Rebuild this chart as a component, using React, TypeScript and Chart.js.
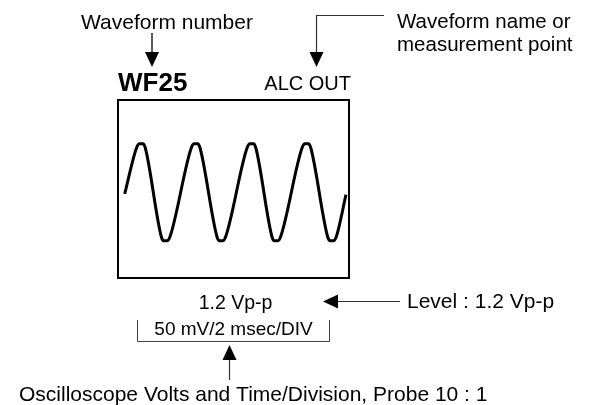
import React, { useEffect, useRef } from "react";
import { Chart, registerables } from "chart.js";

Chart.register(...registerables);

// Waveform trace (time in ms, 2 ms/div; level in V)
const waveTimeMs = [
  0.58,
  1.61, 1.86, 2.16, 2.36,
  3.75, 3.95, 4.25, 4.5,
  6.35, 6.6, 6.9, 7.1,
  8.57, 8.77, 9.07, 9.32,
  11.18, 11.43, 11.73, 11.93,
  13.33, 13.53, 13.83, 14.08,
  15.94, 16.19, 16.49, 16.69,
  18.15, 18.35, 18.65, 18.9,
  19.74,
];
const waveVolts = [
  -0.02,
  0.55, 0.6, 0.6, 0.55,
  -0.55, -0.6, -0.6, -0.55,
  0.55, 0.6, 0.6, 0.55,
  -0.55, -0.6, -0.6, -0.55,
  0.55, 0.6, 0.6, 0.55,
  -0.55, -0.6, -0.6, -0.55,
  0.55, 0.6, 0.6, 0.55,
  -0.55, -0.6, -0.6, -0.55,
  -0.03,
];

// Screen range (10 div x 2 ms; vertical window in V)
const timeRange = [0, 20];
const voltRange = [-1.06, 1.14];

// Labels
const waveformNumber = "WF25";
const waveformName = "ALC OUT";
const levelText = "1.2 Vp-p";
const scaleText = "50 mV/2 msec/DIV";
const calloutNumber = "Waveform number";
const calloutName = ["Waveform name or", "measurement point"];
const calloutLevel = "Level : 1.2 Vp-p";
const calloutScale = "Oscilloscope Volts and Time/Division, Probe 10 : 1";

const FONT = '"Liberation Sans", Arial, Helvetica, sans-serif';

function arrowHead(ctx: CanvasRenderingContext2D, x: number, y: number, dir: "down" | "up" | "left") {
  const len = 15;
  const half = 7;
  ctx.beginPath();
  if (dir === "down") {
    ctx.moveTo(x, y);
    ctx.lineTo(x - half, y - len);
    ctx.lineTo(x + half, y - len);
  } else if (dir === "up") {
    ctx.moveTo(x, y);
    ctx.lineTo(x - half, y + len);
    ctx.lineTo(x + half, y + len);
  } else {
    ctx.moveTo(x, y);
    ctx.lineTo(x + len, y - half);
    ctx.lineTo(x + len, y + half);
  }
  ctx.closePath();
  ctx.fill();
}

const annotations = {
  id: "annotations",
  afterDraw(chart: any) {
    const ctx: CanvasRenderingContext2D = chart.ctx;
    const { left, top, right, bottom } = chart.chartArea;
    ctx.save();

    // scope screen frame
    ctx.strokeStyle = "#000";
    ctx.lineWidth = 2;
    ctx.strokeRect(left, top, right - left, bottom - top);

    ctx.fillStyle = "#000";
    ctx.textBaseline = "alphabetic";

    // Waveform number label + arrow
    ctx.font = `21px ${FONT}`;
    ctx.textAlign = "center";
    ctx.fillText(calloutNumber, 167, 29);
    ctx.strokeStyle = "#222";
    ctx.lineWidth = 1.5;
    ctx.beginPath();
    ctx.moveTo(152, 33);
    ctx.lineTo(152, 54);
    ctx.stroke();
    arrowHead(ctx, 152, 67, "down");

    // WF number and name
    ctx.textAlign = "left";
    ctx.font = `bold 26px ${FONT}`;
    ctx.fillText(waveformNumber, left, 91);
    ctx.font = `20px ${FONT}`;
    ctx.textAlign = "right";
    ctx.fillText(waveformName, right + 2, 90);

    // Waveform name connector
    ctx.strokeStyle = "#333";
    ctx.lineWidth = 1.2;
    ctx.beginPath();
    ctx.moveTo(384, 15.5);
    ctx.lineTo(316.5, 15.5);
    ctx.lineTo(316.5, 54);
    ctx.stroke();
    arrowHead(ctx, 316.5, 67, "down");
    ctx.textAlign = "left";
    ctx.font = `20.5px ${FONT}`;
    ctx.fillText(calloutName[0], 397, 28);
    ctx.fillText(calloutName[1], 397, 51);

    // Level
    ctx.textAlign = "center";
    ctx.font = `19.5px ${FONT}`;
    ctx.fillText(levelText, 235.5, 309);
    ctx.beginPath();
    ctx.moveTo(400, 301.5);
    ctx.lineTo(336, 301.5);
    ctx.stroke();
    arrowHead(ctx, 323, 301.5, "left");
    ctx.textAlign = "left";
    ctx.font = `21px ${FONT}`;
    ctx.fillText(calloutLevel, 407, 308);

    // Scale + bracket
    ctx.textAlign = "center";
    ctx.font = `19px ${FONT}`;
    ctx.fillText(scaleText, 233.5, 335);
    ctx.strokeStyle = "#444";
    ctx.lineWidth = 1;
    ctx.beginPath();
    ctx.moveTo(137.5, 320);
    ctx.lineTo(137.5, 341.5);
    ctx.lineTo(329.5, 341.5);
    ctx.lineTo(329.5, 320);
    ctx.stroke();

    ctx.strokeStyle = "#333";
    ctx.lineWidth = 1.2;
    ctx.beginPath();
    ctx.moveTo(229.5, 358);
    ctx.lineTo(229.5, 380);
    ctx.stroke();
    arrowHead(ctx, 229.5, 345, "up");

    ctx.textAlign = "left";
    ctx.font = `21px ${FONT}`;
    ctx.fillText(calloutScale, 19, 401);

    ctx.restore();
  },
};

export default function App() {
  const ref = useRef<HTMLCanvasElement | null>(null);

  useEffect(() => {
    document.body.style.margin = "0";
    document.body.style.background = "#fff";
    const canvas = ref.current;
    if (!canvas) return;
    const chart = new Chart(canvas, {
      type: "scatter",
      data: {
        datasets: [
          {
            label: "ALC OUT",
            data: waveTimeMs.map((t, i) => ({ x: t, y: waveVolts[i] })),
            showLine: true,
            borderColor: "#000",
            borderWidth: 3,
            pointRadius: 0,
            cubicInterpolationMode: "monotone",
            borderJoinStyle: "round",
            borderCapStyle: "butt",
          },
        ],
      },
      options: {
        animation: false,
        responsive: false,
        events: [],
        layout: { padding: { left: 118, right: 245, top: 100, bottom: 127 } },
        plugins: {
          legend: { display: false },
          tooltip: { enabled: false },
          title: { display: false },
        },
        scales: {
          x: { type: "linear", display: false, min: timeRange[0], max: timeRange[1] },
          y: { type: "linear", display: false, min: voltRange[0], max: voltRange[1] },
        },
      },
      plugins: [annotations],
    });
    return () => chart.destroy();
  }, []);

  return (
    <div style={{ position: "fixed", left: 0, top: 0, width: 594, height: 405, background: "#fff" }}>
      <canvas ref={ref} width={594} height={405} style={{ display: "block", width: 594, height: 405 }} />
    </div>
  );
}
